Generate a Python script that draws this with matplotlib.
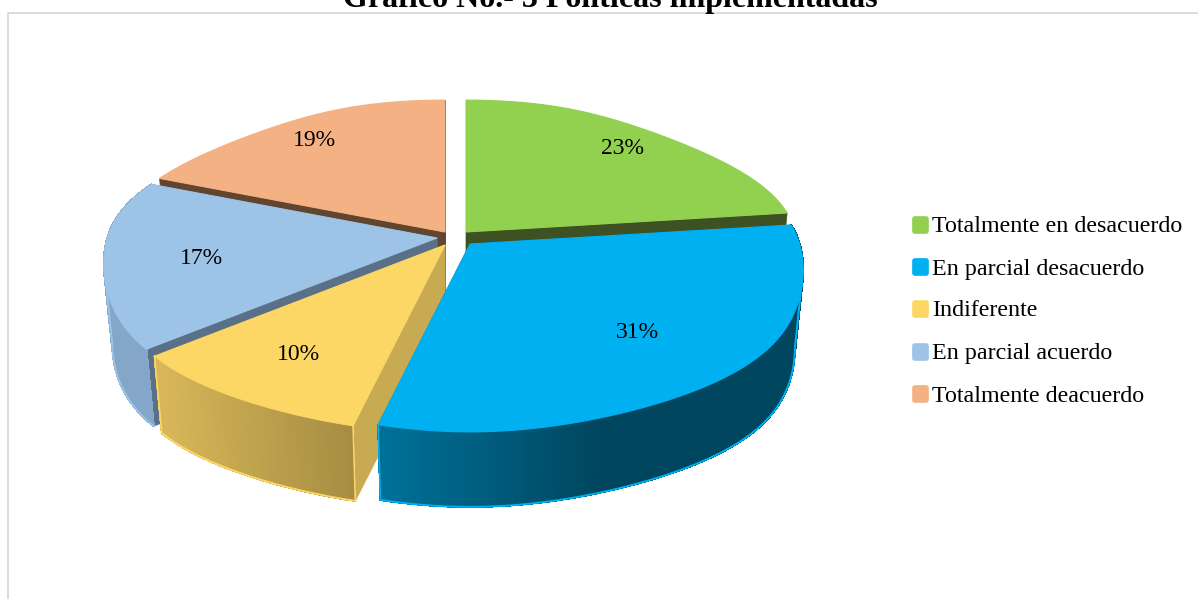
import numpy as np
import matplotlib
matplotlib.use("Agg")
import matplotlib.pyplot as plt
from matplotlib.collections import PolyCollection
from matplotlib.colors import to_rgb
from matplotlib.patches import FancyBboxPatch, Polygon

title = "Gráfico No.- 3 Políticas implementadas"
categories = ["Totalmente en desacuerdo", "En parcial desacuerdo", "Indiferente",
              "En parcial acuerdo", "Totalmente deacuerdo"]
values = [23, 31, 10, 17, 19]

colors = ["#92D050", "#00B0F0", "#FCD765", "#9DC3E6", "#F4B183"]
face_colors = ["#3E5122", "#005F7F", "#C8AA52", "#5A7088", "#62452F"]
wall_left = [None, "#007098", "#D6B658", "#84A6C8", None]
wall_right = [None, "#00465F", "#A58C42", "#84A6C8", None]
wall_span = [None, (383, 600), (163, 355), (103, 160), None]
apexes = [(466, 232), (470, 244), (445, 245), (437, 238), (445, 232)]
label_pos = [(622, 147), (637, 331), (298, 353), (201, 257), (314, 139)]
legend_y = [225, 267, 309, 352, 394]

A, B, K = 327, 155, 0.175
S, DROP = 0.975, 79.7
SERIF = "Liberation Serif"
GROW = np.polyfit([-0.93, -0.7, -0.45, -0.368, -0.11, 0.241, 0.52, 0.637, 0.76, 0.855, 0.969],
                  [0.82, 0.83, 0.91, 0.955, 0.98, 1.05, 1.128, 1.144, 1.176, 1.175, 1.13], 5)


def project(apex, t, scale=1.0, drop=0.0):
    # clockwise from twelve o'clock, nearer points get bigger
    u, v = np.sin(t), -np.cos(t)
    x = apex[0] + scale * A * u * np.polyval(GROW, v)
    y = apex[1] + scale * B * v / (1 - K * v) + drop
    return np.column_stack([x, y])


fig = plt.figure(figsize=(11.98, 5.99), dpi=100)
ax = fig.add_axes([0, 0, 1, 1])
ax.set_xlim(0, 1198)
ax.set_ylim(599, 0)
ax.axis("off")

ax.plot([8, 8, 1198], [599, 13, 13], color="#D9D9D9", lw=1.3)
ax.text(610, 7, title, family=SERIF, weight="bold", fontsize=23, ha="center",
        va="baseline", color="black", clip_on=False)

edges = np.cumsum([0] + values) / sum(values) * 2 * np.pi
# painter's order: the back slices first, the big front slice last
z = 2
for i in [4, 0, 3, 2, 1]:
    apex = np.array(apexes[i], float)
    ts = np.linspace(edges[i], edges[i + 1], 220)
    top = project(apex, ts)
    low = project(apex, ts, S, DROP)
    apex_low = apex + [0, DROP]

    for a, b in [(top[0], low[0]), (top[-1], low[-1])]:
        ax.add_patch(Polygon([apex, a, b, apex_low], fc=face_colors[i], ec=face_colors[i],
                             lw=0.5, zorder=z))

    if wall_left[i] is not None:
        quads = [[top[j], top[j + 1], low[j + 1], low[j]] for j in range(len(ts) - 1)]
        xm = (top[:-1, 0] + top[1:, 0]) / 2
        f = np.clip((xm - wall_span[i][0]) / (wall_span[i][1] - wall_span[i][0]), 0, 1)[:, None]
        rgb = np.array(to_rgb(wall_left[i])) * (1 - f) + np.array(to_rgb(wall_right[i])) * f
        ax.add_collection(PolyCollection(quads, facecolors=rgb, edgecolors=rgb, linewidths=0.8,
                                         antialiased=False, zorder=z + 0.1))

        # outline only where the wall faces the viewer
        line = low
        if i == 1:
            k = np.argmax(low[:, 0])
            line = np.vstack([top[np.argmax(top[:, 0])], low[k:]])
        elif i == 3:
            k = np.argmin(low[:, 0])
            line = np.vstack([low[:k + 1], top[np.argmin(top[:, 0])]])
        ax.plot(line[:, 0], line[:, 1], color=colors[i], lw=1.4, zorder=z + 0.2)
        if i in (1, 2):
            ax.plot([top[0, 0], low[0, 0]], [top[0, 1], low[0, 1]], color=colors[i], lw=1.2,
                    zorder=z + 0.05 if i == 1 else z + 0.2)
            ax.plot([top[-1, 0], low[-1, 0]], [top[-1, 1], low[-1, 1]], color=colors[i], lw=1.2,
                    zorder=z + 0.2)

    ax.add_patch(Polygon(np.vstack([apex, top]), fc=colors[i], ec=colors[i], lw=0.8,
                         joinstyle="round", zorder=z + 0.3))
    z += 1

for v, (x, y) in zip(values, label_pos):
    ax.text(x, y + 2, f"{v}%", family=SERIF, fontsize=17, ha="center", va="center",
            color="black", zorder=20)

for name, col, y in zip(categories, colors, legend_y):
    ax.add_patch(FancyBboxPatch((913, y - 8), 15, 16, boxstyle="round,pad=0,rounding_size=2",
                                fc=col, ec=col, lw=1.2, zorder=20))
    ax.text(932, y + 2, name, family=SERIF, fontsize=17.3, ha="left", va="center",
            color="black", zorder=20)

fig.savefig("out.png", dpi=100)
